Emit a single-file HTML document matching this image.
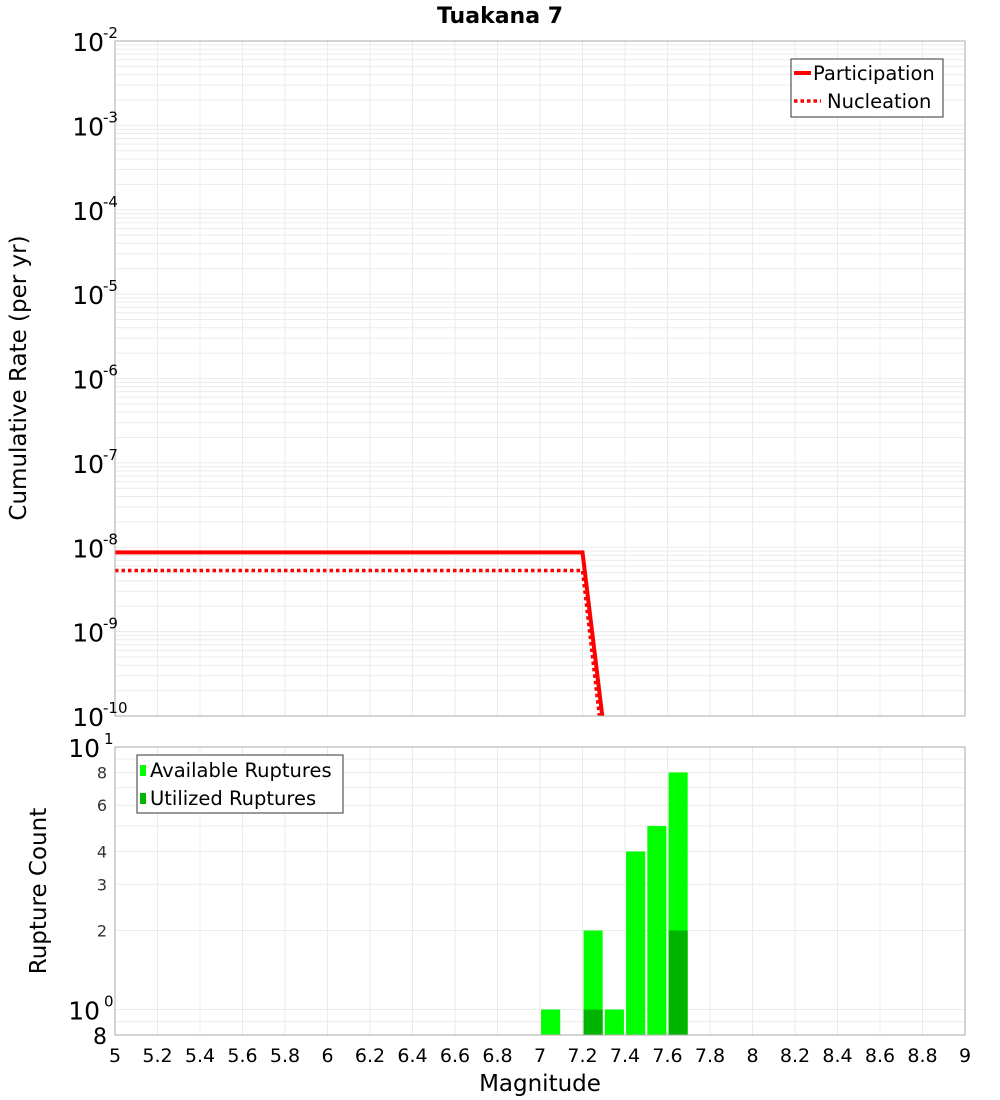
<!DOCTYPE html>
<html><head><meta charset="utf-8"><style>
body{margin:0;background:#fff;font-family:"Liberation Sans","DejaVu Sans",sans-serif;}
svg{display:block}
text{font-family:"DejaVu Sans","Liberation Sans",sans-serif;}
</style></head><body>
<svg id="c" width="1000" height="1100" xmlns="http://www.w3.org/2000/svg"></svg>
<script>
const partMags=[5.0,7.2,7.3];
const partRates=[8.7e-9,8.7e-9,7.2e-11];
const nuclMags=[5.0,7.2,7.3];
const nuclRates=[5.3e-9,5.3e-9,3.6e-11];
const binMags=[7.05,7.25,7.35,7.45,7.55,7.65];
const availCounts=[1,2,1,4,5,8];
const usedCounts=[0,1,0,0,0,2];
const xTicks=[5,5.2,5.4,5.6,5.8,6,6.2,6.4,6.6,6.8,7,7.2,7.4,7.6,7.8,8,8.2,8.4,8.6,8.8,9];
const topExps=[-2,-3,-4,-5,-6,-7,-8,-9,-10];
const botTicks=[8,6,4,3,2];

const NS="http://www.w3.org/2000/svg";
const svg=document.getElementById('c');
const L=115,R=965,T1=41,B1=716,T2=747,B2=1035;
const X=m=>L+(m-5)/4*(R-L);
const Y1=v=>T1+(-2-Math.log10(v))/8*(B1-T1);
const Y2=v=>T2+(1-Math.log10(v))/(1-Math.log10(0.8))*(B2-T2);
function el(t,a,p){const e=document.createElementNS(NS,t);for(const k in a)e.setAttribute(k,a[k]);(p||svg).appendChild(e);return e;}

let r=el('rect',{x:L,y:T1,width:R-L,height:B1-T1,fill:'#fff'});

r=el('rect',{x:L,y:T2,width:R-L,height:B2-T2,fill:'#fff'});


const g=el('g',{stroke:'#ebebeb','stroke-width':1});

for(const m of xTicks){el('line',{x1:X(m),x2:X(m),y1:T1,y2:B1},g);el('line',{x1:X(m),x2:X(m),y1:T2,y2:B2},g);}
for(let e=-10;e<-2;e++)for(let k=1;k<10;k++){const y=Y1(k*Math.pow(10,e));el('line',{x1:L,x2:R,y1:y,y2:y},g);}
for(const v of [0.8,0.9,1,2,3,4,5,6,7,8,9]){const y=Y2(v);el('line',{x1:L,x2:R,y1:y,y2:y},g);}

const clip=el('clipPath',{id:'cp1'});el('rect',{x:L,y:T1,width:R-L,height:B1-T1},clip);
let pl=el('polyline',{points:partMags.map((m,i)=>X(m)+','+Y1(partRates[i])).join(' '),fill:'none',stroke:'#ff0000','stroke-width':4,'clip-path':'url(#cp1)'});

pl=el('polyline',{points:nuclMags.map((m,i)=>X(m)+','+Y1(nuclRates[i])).join(' '),fill:'none',stroke:'#ff0000','stroke-width':3.5,'stroke-dasharray':'3.5,3','clip-path':'url(#cp1)'});


binMags.forEach((m,i)=>{
 const x0=X(m-0.045),w=X(m+0.045)-x0;
 let b=el('rect',{x:x0,y:Y2(availCounts[i]),width:w,height:B2-Y2(availCounts[i]),fill:'#00ff00'});
 
 if(usedCounts[i]>0){b=el('rect',{x:x0,y:Y2(usedCounts[i]),width:w,height:B2-Y2(usedCounts[i]),fill:'#00b400'});
 }
});

el('rect',{x:L,y:T1,width:R-L,height:B1-T1,fill:'none',stroke:'#aaa'});
el('rect',{x:L,y:T2,width:R-L,height:B2-T2,fill:'none',stroke:'#aaa'});

topExps.forEach(e=>{
 const y=Y1(Math.pow(10,e));
 const t=el('text',{x:104,y:y+10,'font-size':25,'text-anchor':'end',fill:'#000'});
 
 t.textContent='10';
 const s=el('text',{x:103,y:y-3,'font-size':15,fill:'#000'});
 
 s.textContent=String(e);
});
[[10,'1'],[1,'0']].forEach(([v,ex])=>{
 const y=Y2(v);
 const t=el('text',{x:100,y:y+10,'font-size':25,'text-anchor':'end'});
 
 t.textContent='10';
 const s=el('text',{x:104,y:y-3,'font-size':15});
 
 s.textContent=ex;
});
botTicks.forEach(v=>{
 const t=el('text',{x:107,y:Y2(v)+6,'font-size':16,'text-anchor':'end',fill:'#333'});
 
 t.textContent=String(v);
});
let t8=el('text',{x:107,y:Y2(0.8)+9,'font-size':22,'text-anchor':'end'});

t8.textContent='8';

xTicks.forEach(m=>{
 const t=el('text',{x:X(m),y:1062,'font-size':19,'text-anchor':'middle'});
 
 t.textContent=String(m);
});

let tt=el('text',{x:500,y:23,'font-size':22,'font-weight':'bold','text-anchor':'middle'});
tt.textContent='Tuakana 7';
tt=el('text',{x:540,y:1091,'font-size':23,'text-anchor':'middle'});
tt.textContent='Magnitude';
tt=el('text',{x:0,y:0,'font-size':23,'text-anchor':'middle',transform:'translate(26,378) rotate(-90)'});
tt.textContent='Cumulative Rate (per yr)';
tt=el('text',{x:0,y:0,'font-size':23,'text-anchor':'middle',transform:'translate(46,891) rotate(-90)'});
tt.textContent='Rupture Count';

let lg=el('g',{});
el('rect',{x:791,y:59,width:152,height:58,fill:'#fff',stroke:'#333'},lg);
el('line',{x1:794,x2:811,y1:73,y2:73,stroke:'#f00','stroke-width':4},lg);
el('line',{x1:794,x2:821,y1:101,y2:101,stroke:'#f00','stroke-width':3.5,'stroke-dasharray':'3.5,3'},lg);
let lt=el('text',{x:813,y:80,'font-size':19.5},lg);lt.textContent='Participation';
lt=el('text',{x:827,y:108,'font-size':19.5},lg);lt.textContent='Nucleation';

lg=el('g',{});
el('rect',{x:137,y:755,width:206,height:58,fill:'#fff',stroke:'#333'},lg);
el('rect',{x:140,y:765,width:6,height:11,fill:'#00ff00'},lg);
el('rect',{x:140,y:793,width:6,height:11,fill:'#00b400'},lg);
lt=el('text',{x:150,y:777,'font-size':19.5},lg);lt.textContent='Available Ruptures';
lt=el('text',{x:150,y:805,'font-size':19.5},lg);lt.textContent='Utilized Ruptures';
</script>
</body></html>
